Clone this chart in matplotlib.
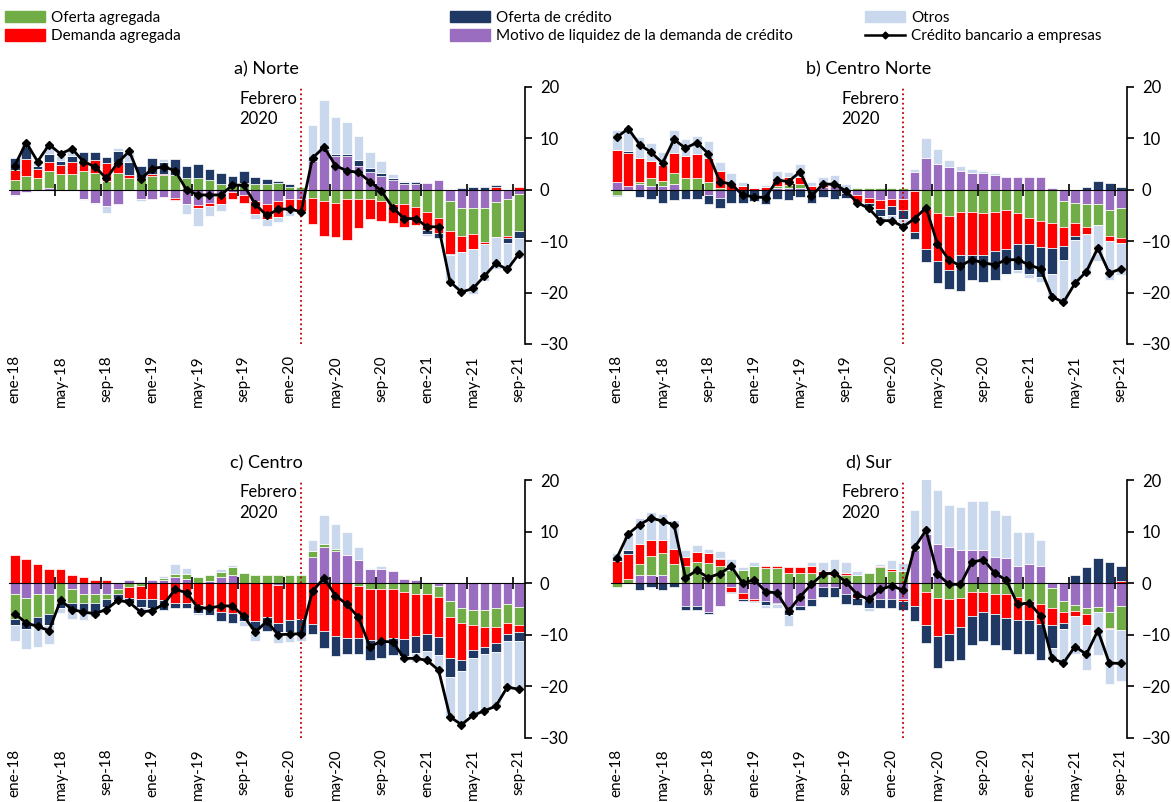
"""Descomposición del crédito bancario a empresas por región (ene-18 a sep-21)."""
import numpy as np
import matplotlib
matplotlib.use("Agg")
import matplotlib.pyplot as plt
from matplotlib.lines import Line2D
from matplotlib.patches import Patch

plt.rcParams['font.family'] = ['Lato', 'DejaVu Sans']

# ---------------------------------------------------------------------------
# Datos (variación anual, puntos porcentuales)
# ---------------------------------------------------------------------------
etiquetas = ['ene-18', 'may-18', 'sep-18', 'ene-19', 'may-19', 'sep-19',
             'ene-20', 'may-20', 'sep-20', 'ene-21', 'may-21', 'sep-21']
n_meses = 45
mes_covid = 25  # febrero 2020

# a) Norte
norte_liquidez = [-1.0, -0.5, 0, 0.3, 0, 0, -1.7, -2.5, -3.1, -2.8,
                  0, -1.8, -1.8, -1.4, -1.6, -2.8, -3.0, -2.5, -1.3, -0.5,
                  -1.0, -2.2, -2.8, -2.2, -1.8, -1.8, 5.7, 8.0, 6.5, 6.5,
                  4.7, 3.4, 2.6, 1.9, 1.2, 1.1, 1.4, 1.9, -2.2, -3.6,
                  -3.6, -3.6, -2.3, -1.8, -0.9]
norte_of_agr = [1.9, 2.6, 2.2, 3.3, 3.0, 3.0, 3.6, 3.2, 1.8, 3.2,
                2.2, 2.2, 2.6, 2.9, 2.9, 2.2, 2.2, 1.9, 1.1, 0.8,
                1.4, 1.1, 1.1, 1.4, 0.6, 0.5, -1.5, -2.2, -2.5, -1.8,
                -1.8, -1.8, -2.2, -2.8, -2.8, -3.3, -4.3, -5.4, -5.8, -5.4,
                -5.0, -6.6, -6.8, -7.2, -7.1]
norte_dem_agr = [2.0, 3.3, 1.8, 1.9, 1.8, 2.5, 2.1, 2.6, 3.5, 2.2,
                 0.7, 0, 0.5, 0.2, -0.4, 0, -0.6, -0.6, -1.5, -1.3,
                 -1.5, -2.5, -2.9, -3.0, -2.3, -2.3, -5.2, -6.8, -6.6, -7.9,
                 -5.6, -3.8, -3.9, -3.6, -4.4, -3.6, -3.6, -3.1, -4.4, -3.1,
                 -3.0, -0.3, 0.6, -0.3, 0.6]
norte_of_cred = [2.3, 2.5, 0.7, 1.4, 0.8, 1.1, 1.6, 1.5, 1.1, 2.2,
                 2.5, 2.5, 3.1, 2.4, 3.0, 2.5, 2.8, 2.2, 2.1, 1.8,
                 2.3, 1.4, 1.0, 0.4, 0.6, 0, 0.5, 0.3, 0.4, 0.4,
                 1.1, 0.9, 0.7, 0.4, 0.3, 0.5, -0.7, -0.8, -0.2, 0.3,
                 0.6, 0.6, 0.3, -1.0, -1.3]
norte_otros = [-0.2, 1.1, 0.8, 1.9, 1.0, 1.2, -0.2, -0.3, -1.5, 0.5,
               2.2, -0.3, 0, 0.4, 0, -1.9, -3.5, -2.0, -1.4, 0,
               0, -0.9, -1.3, -1.0, -1.0, -0.6, 6.5, 9.1, 7.2, 6.2,
               4.7, 3.1, 2.3, 0.7, 0.3, 0, -0.3, 0, -5.4, -7.9,
               -8.7, -7.2, -6.4, -4.9, -3.9]
norte_credito = [4.7, 9.2, 5.5, 8.8, 7.0, 8.0, 5.5, 4.5, 2.2, 5.3,
                 7.5, 2.1, 4.1, 4.5, 3.7, 0, -1.0, -1.0, -1.0, 0.9,
                 0.9, -2.8, -5.0, -3.8, -3.7, -4.3, 6.2, 8.3, 4.7, 3.7,
                 3.4, 1.6, -0.2, -3.5, -5.6, -5.6, -7.2, -7.2, -17.9, -19.9,
                 -19.2, -16.8, -14.3, -15.5, -12.5]

# b) Centro Norte
cnorte_liquidez = [1.6, 0.8, 1.1, 0.7, 0.7, 1.1, 0, 0, -1.0, -1.6,
                   0, 0, 0, 0, 0.3, 0.3, 0.3, 0, 0.5, 1.0,
                   -0.6, -1.0, -1.5, -2.0, -1.7, -1.8, 3.4, 6.1, 5.0, 4.4,
                   3.6, 3.3, 3.3, 2.9, 2.5, 2.5, 2.5, 2.5, 0.3, -2.2,
                   -2.5, -2.8, -2.8, -4.0, -3.6]
cnorte_of_agr = [-1.0, 0, 0.5, 1.6, 1.1, 2.2, 2.2, 2.2, 1.6, 0.3,
                 0, 0, 0, 0, 0.5, 0.6, 0.8, 0, 0, 0,
                 0, 0.4, 0.4, 0.4, 0.4, 0.4, -0.3, -3.7, -4.6, -5.1,
                 -4.3, -4.3, -4.6, -4.3, -4.0, -4.6, -5.4, -6.1, -6.4, -5.0,
                 -3.9, -4.4, -4.1, -5.0, -5.7]
cnorte_dem_agr = [6.1, 6.4, 4.6, 3.3, 3.0, 3.9, 4.3, 4.7, 4.6, 3.3,
                  1.4, 0.7, 0.3, 0.6, 1.0, 1.5, 1.4, 0.8, 0.5, 0.3,
                  0, -1.4, -1.0, -1.8, -1.5, -2.1, -8.0, -7.8, -9.3, -10.5,
                  -8.3, -8.3, -8.0, -7.6, -7.5, -6.0, -5.2, -5.1, -5.0, -3.8,
                  -2.5, -1.4, 0, -1.0, -1.1]
cnorte_of_cred = [-0.3, 0.3, -1.4, -1.8, -2.5, -2.0, -1.8, -1.8, -1.8, -2.0,
                  -2.5, -2.5, -2.2, -2.8, -1.8, -2.0, -1.4, -2.5, -1.4, -1.8,
                  -1.0, 0, -0.6, -1.2, -1.7, -1.7, -1.3, -2.5, -4.2, -3.7,
                  -7.0, -4.9, -5.4, -5.6, -4.8, -5.1, -5.8, -5.7, -5.0, -2.6,
                  -0.8, 0.6, 1.8, 1.4, 0.6]
cnorte_otros = [3.9, 4.4, 4.0, 3.5, 2.5, 4.4, 3.3, 3.6, 3.3, 1.8,
                1.8, 0.8, 0.3, 0.3, 1.8, 1.1, 2.5, 0.7, 1.4, 1.6,
                1.1, -0.3, -0.6, -1.3, -0.8, -1.7, 0.6, 4.0, 2.9, 1.4,
                1.1, 0.7, 0.3, 0.3, -0.3, -0.5, -0.8, -1.0, -4.7, -8.5,
                -8.5, -8.0, -7.0, -7.6, -6.1]
cnorte_credito = [10.2, 11.9, 8.8, 7.3, 5.2, 9.8, 8.1, 9.2, 7.0, 1.6,
                  1.1, -1.0, -1.4, -1.5, 1.9, 1.6, 3.5, -1.2, 1.1, 1.1,
                  -0.2, -2.5, -3.6, -6.0, -6.0, -7.2, -5.6, -3.5, -10.5, -13.6,
                  -14.8, -13.6, -14.2, -14.6, -13.6, -13.6, -14.6, -15.4, -20.8, -21.9,
                  -18.2, -15.9, -11.3, -16.2, -15.4]

# c) Centro
centro_liquidez = [-2.0, -2.9, -2.0, -2.0, 0, -1.2, -2.0, -2.0, -2.0, -1.2,
                   0.6, 0.3, 0.6, 0.6, 1.2, 0.9, 0, 0.5, 1.2, 1.6,
                   0, 0, 0, -0.4, 0, 0, 5.2, 7.0, 6.3, 5.6,
                   4.5, 2.7, 2.7, 2.4, 0.9, 0.6, 0, -0.5, -3.5, -4.9,
                   -5.2, -5.2, -4.9, -4.1, -4.6]
centro_of_agr = [-5.0, -4.8, -4.6, -3.9, -3.8, -2.6, -1.8, -1.8, -1.1, -0.8,
                 -0.8, -0.5, 0, 0.4, 0.7, 1.0, 1.2, 1.2, 1.0, 1.5,
                 2.0, 1.6, 1.6, 1.6, 1.6, 1.6, 1.1, 0.7, 0.3, 0,
                 -0.5, -1.2, -1.2, -1.2, -1.6, -2.0, -2.0, -2.1, -3.1, -2.8,
                 -2.9, -3.3, -3.6, -3.6, -3.6]
centro_dem_agr = [5.6, 4.8, 3.7, 2.7, 2.7, 1.6, 1.2, 0.6, 0.6, 0,
                  -2.0, -2.5, -3.0, -3.3, -3.8, -3.8, -4.3, -4.8, -5.6, -5.8,
                  -6.4, -7.4, -6.6, -7.3, -7.1, -6.9, -8.0, -9.2, -10.2, -10.7,
                  -10.1, -9.9, -9.8, -9.5, -9.3, -8.2, -7.8, -7.8, -7.9, -7.2,
                  -4.9, -3.9, -3.1, -2.1, -1.3]
centro_of_cred = [-1.1, -1.1, -1.6, -2.2, -1.1, -1.6, -1.5, -1.8, -1.6, -1.0,
                  -1.0, -1.6, -1.8, -1.8, -1.0, -1.0, -1.4, -1.4, -1.7, -2.0,
                  -1.0, -1.4, -2.7, -1.8, -2.3, -2.9, -1.8, -3.3, -3.9, -3.1,
                  -3.1, -3.8, -3.6, -3.3, -3.3, -3.3, -3.3, -3.6, -3.8, -2.1,
                  -1.5, -1.4, -1.8, -1.5, -1.8]
centro_otros = [-3.1, -4.0, -4.1, -3.8, -0.8, -1.6, -1.8, -1.0, -0.5, 0,
                0, -1.2, -0.8, 0.5, 1.8, 1.1, -0.5, -0.2, 0.5, 0.5,
                -1.0, -2.5, 0, -2.1, -2.0, -1.5, 2.1, 5.5, 5.0, 4.4,
                2.5, 0.3, 0.7, 0, -1.0, -1.8, -1.8, -2.8, -7.7, -10.5,
                -11.2, -11.0, -10.5, -8.9, -9.3]
centro_credito = [-5.9, -7.7, -8.4, -9.2, -3.3, -5.1, -5.6, -5.9, -5.1, -3.3,
                  -3.7, -5.6, -5.3, -4.1, -1.2, -1.8, -4.8, -4.8, -4.4, -4.4,
                  -6.4, -9.5, -7.4, -10.0, -9.9, -9.8, -1.5, 1.0, -2.4, -4.1,
                  -6.6, -12.3, -11.3, -11.4, -14.6, -14.6, -15.0, -16.9, -26.0, -27.5,
                  -25.7, -24.8, -23.9, -20.2, -20.6]

# d) Sur
sur_liquidez = [0, 0, 1.6, 1.6, 1.6, 0, -4.4, -4.4, -5.6, -4.4,
                -0.8, -1.8, -3.1, -3.5, -3.8, -5.2, -4.4, -3.1, -0.8, -0.8,
                -2.0, -2.2, -3.3, -3.0, -3.0, -3.0, 6.4, 9.6, 7.7, 7.0,
                6.4, 6.4, 6.4, 5.2, 4.9, 3.4, 3.7, 3.4, -0.9, -3.5,
                -4.3, -4.8, -4.6, -5.6, -4.5]
sur_of_agr = [-0.8, 0.9, 2.2, 3.7, 4.3, 3.7, 3.4, 4.1, 3.9, 3.4,
              2.6, 2.6, 3.4, 2.9, 2.9, 2.1, 2.1, 2.1, 1.6, 1.4,
              1.6, 1.6, 2.0, 3.1, 2.4, 2.4, 0.3, -1.7, -2.8, -3.1,
              -2.8, -1.6, -1.6, -2.0, -2.0, -2.7, -3.5, -4.1, -3.9, -2.0,
              -1.0, -1.1, -1.0, -3.0, -4.5]
sur_dem_agr = [4.4, 4.8, 3.9, 3.2, 2.5, 2.9, 1.8, 2.0, 2.0, 1.3,
               -0.8, -1.3, -0.3, 0.5, 0.4, 1.0, 1.0, 1.3, 0.8, 0.8,
               0.4, -0.7, 0, 0.3, 0.3, -0.5, -4.5, -6.4, -7.4, -6.7,
               -5.7, -4.7, -4.0, -4.0, -4.7, -4.4, -3.6, -3.9, -3.3, -2.3,
               -1.0, -2.2, 0, -0.3, 0.4]
sur_of_cred = [0.7, 0.7, -1.3, -0.8, -1.3, -0.8, -0.7, -0.7, -0.3, 0.2,
               -0.3, -0.3, -0.3, -0.7, -0.3, -1.0, -0.8, -1.3, -1.8, -1.8,
               -2.0, -1.4, -1.6, -1.8, -1.8, -1.6, -2.9, -3.5, -6.2, -5.4,
               -6.4, -5.7, -5.7, -6.0, -6.2, -6.7, -6.7, -6.9, -4.5, -1.1,
               1.6, 3.1, 4.9, 4.1, 3.0]
sur_otros = [0.8, 3.3, 5.0, 5.4, 5.1, 5.7, 1.2, 1.4, 0.8, 1.4,
             2.2, 0.5, 0.7, -0.7, -0.7, -2.1, 0, 0.7, 1.8, 2.6,
             2.2, 0.8, -0.5, 0.3, 1.8, 1.6, 7.5, 10.8, 10.5, 8.3,
             8.5, 9.7, 9.7, 9.0, 8.3, 6.6, 6.2, 5.1, -2.0, -6.8,
             -7.5, -8.7, -8.3, -10.7, -10.0]
sur_credito = [4.9, 9.6, 11.4, 12.7, 12.1, 11.4, 1.1, 2.5, 1.1, 1.9,
               3.3, 0, 0.7, -1.6, -1.9, -5.4, -2.6, -0.2, 1.8, 2.0,
               0.3, -2.2, -3.1, -1.2, -0.5, -1.3, 7.0, 10.3, 1.8, -0.2,
               -0.2, 4.1, 4.6, 2.0, 0.6, -4.1, -3.8, -6.3, -14.6, -15.5,
               -12.3, -13.8, -9.2, -15.5, -15.6]

# ---------------------------------------------------------------------------
# Estilo
# ---------------------------------------------------------------------------
C_LIQ = '#9B6DC0'
C_OF_AGR = '#70AD47'
C_DEM_AGR = '#FF0000'
C_OF_CRED = '#203864'
C_OTROS = '#CAD8EE'
Y_MIN, Y_MAX = -30, 20


def apilar(ax, x, componentes):
    """Barras apiladas tipo Excel: positivos hacia arriba, negativos hacia abajo."""
    pos = np.zeros(len(x))
    neg = np.zeros(len(x))
    for valores, color in componentes:
        v = np.asarray(valores, dtype=float)
        base = np.where(v >= 0, pos, neg)
        m = v != 0
        ax.bar(x[m], v[m], bottom=base[m], width=0.84, color=color,
               edgecolor='white', linewidth=0.5, zorder=2)
        pos += np.clip(v, 0, None)
        neg += np.clip(v, None, 0)


def panel(ax, titulo, liquidez, of_agr, dem_agr, of_cred, otros, credito):
    x = np.arange(n_meses)
    apilar(ax, x, [(liquidez, C_LIQ), (of_agr, C_OF_AGR), (dem_agr, C_DEM_AGR),
                   (of_cred, C_OF_CRED), (otros, C_OTROS)])
    ax.plot(x, credito, color='black', lw=2, marker='D', ms=4.5, zorder=6)
    ax.axvline(mes_covid, color='#C00000', ls=(0, (1, 1.6)), lw=1.3, zorder=4)
    ax.text(19.6, 19.3, 'Febrero\n2020', ha='left', va='top', fontsize=12,
            linespacing=1.35)

    ax.set_xlim(-0.5, n_meses - 0.5)
    ax.set_ylim(Y_MIN, Y_MAX)
    ax.set_yticks(range(Y_MIN, Y_MAX + 1, 10))
    ax.yaxis.tick_right()
    ax.tick_params(axis='y', labelsize=12, length=5, width=1.2, pad=6)
    ax.set_xticks(range(0, n_meses, 4), etiquetas, rotation=90, fontsize=11)
    ax.tick_params(axis='x', length=0, pad=8)
    for lado in ('left', 'top', 'bottom'):
        ax.spines[lado].set_visible(False)
    ax.spines['right'].set_linewidth(1.2)

    # eje cero con marcas cada cuatro meses
    eje0 = ax.secondary_xaxis((0 - Y_MIN) / (Y_MAX - Y_MIN))
    eje0.set_xticks(np.arange(3.5, n_meses, 4), [''] * 11)
    eje0.tick_params(direction='inout', length=8, width=1.2)
    eje0.spines['bottom'].set_linewidth(1.6)
    eje0.set_zorder(5)
    ax.set_title(titulo, fontsize=13, pad=9)


fig = plt.figure(figsize=(11.71, 8.02), dpi=100)
ancho, alto = 515.5 / 1171, 257 / 802
ax_a = fig.add_axes([9 / 1171, 1 - 344 / 802, ancho, alto])
ax_b = fig.add_axes([611 / 1171, 1 - 344 / 802, ancho, alto])
ax_c = fig.add_axes([9 / 1171, 1 - 737.5 / 802, ancho, alto])
ax_d = fig.add_axes([611 / 1171, 1 - 737.5 / 802, ancho, alto])

panel(ax_a, 'a) Norte', norte_liquidez, norte_of_agr, norte_dem_agr,
      norte_of_cred, norte_otros, norte_credito)
panel(ax_b, 'b) Centro Norte', cnorte_liquidez, cnorte_of_agr, cnorte_dem_agr,
      cnorte_of_cred, cnorte_otros, cnorte_credito)
panel(ax_c, 'c) Centro', centro_liquidez, centro_of_agr, centro_dem_agr,
      centro_of_cred, centro_otros, centro_credito)
panel(ax_d, 'd) Sur', sur_liquidez, sur_of_agr, sur_dem_agr,
      sur_of_cred, sur_otros, sur_credito)

# leyenda en tres columnas
estilo_ley = dict(frameon=False, fontsize=11, handlelength=2.6, handleheight=0.75,
                  handletextpad=0.4, labelspacing=0.28, borderpad=0,
                  borderaxespad=0, loc='upper left')
columnas = [
    (5, [Patch(color=C_OF_AGR), Patch(color=C_DEM_AGR)],
     ['Oferta agregada', 'Demanda agregada']),
    (450, [Patch(color=C_OF_CRED), Patch(color=C_LIQ)],
     ['Oferta de crédito', 'Motivo de liquidez de la demanda de crédito']),
    (865, [Patch(color=C_OTROS),
           Line2D([], [], color='black', lw=1.8, marker='D', ms=3.5)],
     ['Otros', 'Crédito bancario a empresas']),
]
for x_px, handles, labels in columnas:
    fig.legend(handles, labels, bbox_to_anchor=(x_px / 1171, 1 - 11 / 802),
               **estilo_ley)

fig.savefig('out.png', dpi=100)
